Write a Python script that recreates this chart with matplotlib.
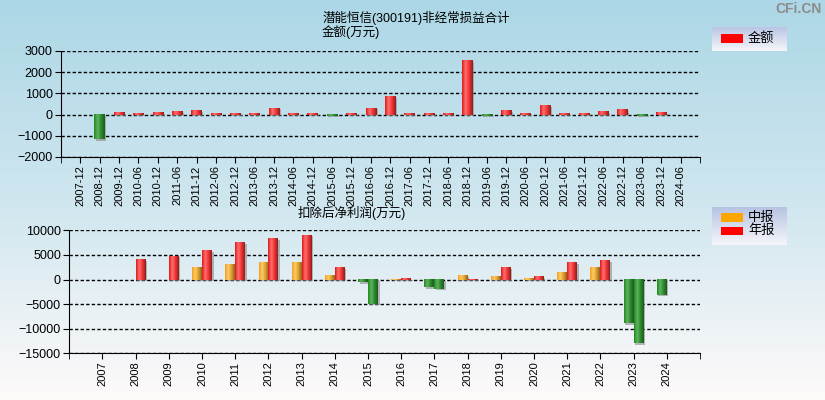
import numpy as np
import matplotlib
matplotlib.use("Agg")
import matplotlib.pyplot as plt
from matplotlib.colors import LinearSegmentedColormap
from matplotlib.patches import Rectangle
from matplotlib.transforms import offset_copy

plt.rcParams['font.family'] = ['Liberation Sans', 'Noto Sans CJK SC', 'DejaVu Sans']

# top chart: non-recurring gains/losses (10k yuan)
periods = ["2007-12", "2008-12", "2009-12", "2010-06", "2010-12", "2011-06", "2011-12",
           "2012-06", "2012-12", "2013-06", "2013-12", "2014-06", "2014-12", "2015-06",
           "2015-12", "2016-06", "2016-12", "2017-06", "2017-12", "2018-06", "2018-12",
           "2019-06", "2019-12", "2020-06", "2020-12", "2021-06", "2021-12", "2022-06",
           "2022-12", "2023-06", "2023-12", "2024-06"]
amount = [0, -1160, 110, 50, 100, 150, 210,
          50, 50, 50, 310, 50, 50, -50,
          50, 310, 860, 50, 50, 50, 2550,
          -50, 200, 50, 430, 50, 50, 150,
          250, -50, 110, 0]

# bottom chart: net profit after deduction (10k yuan)
years = ["2007", "2008", "2009", "2010", "2011", "2012", "2013", "2014", "2015",
         "2016", "2017", "2018", "2019", "2020", "2021", "2022", "2023", "2024"]
mid_report = [np.nan, np.nan, np.nan, 2520, 3200, 3540, 3540, 880, -500,
              200, -1560, 880, 680, 400, 1500, 2520, -8900, -3060]
annual_report = [np.nan, 4150, 4830, 5990, 7620, 8440, 9120, 2520, -4960,
                 270, -1840, 200, 2520, 680, 3540, 3950, -13000, np.nan]

RED = LinearSegmentedColormap.from_list("r", ["#e01818", "#ff7070", "#f03030", "#8a2020"])
GREEN = LinearSegmentedColormap.from_list("g", ["#1a8a1a", "#62b262", "#2a8a2a", "#1e5a1e"])
ORANGE = LinearSegmentedColormap.from_list("o", ["#f0a020", "#ffcc66", "#dc9c2c", "#8a6420"])
GRAD = np.linspace(0, 1, 64).reshape(1, -1)


def draw_bar(ax, fig, x0, w, h, cmap):
    if h is None or np.isnan(h) or h == 0:
        return
    shadow = offset_copy(ax.transData, fig=fig, x=1.5, y=-1.5, units='dots')
    ax.add_patch(Rectangle((x0, 0), w, h, transform=shadow, facecolor="#8a8a8a",
                           alpha=0.6, edgecolor='none', zorder=2))
    lo, hi = min(0, h), max(0, h)
    ax.imshow(GRAD, cmap=cmap, extent=(x0, x0 + w, lo, hi), aspect='auto',
              interpolation='bilinear', zorder=3)


def style_axes(ax, n, ylim, yticks):
    ax.set_facecolor('none')
    ax.set_xlim(-1, n)
    ax.set_ylim(*ylim)
    ax.set_yticks(yticks)
    ax.spines['top'].set_visible(False)
    ax.spines['right'].set_visible(False)
    ax.grid(axis='y', color='black', linestyle=(0, (2.4, 1.6)), linewidth=1, zorder=1)
    ax.set_axisbelow(True)
    ax.tick_params(axis='y', labelsize=9, length=4, pad=2)
    ax.tick_params(axis='x', labelsize=8, length=4, pad=2, labelrotation=90)
    ax.set_xticks([-1, n], minor=True)
    ax.tick_params(axis='x', which='minor', length=4)


fig = plt.figure(figsize=(8.25, 4), dpi=100)

# background gradient
bg = fig.add_axes([0, 0, 1, 1], zorder=-10)
bg_cmap = LinearSegmentedColormap.from_list("bg", ["#acd7e6", "#cfe6ef", "#fefafa"])
bg.imshow(np.linspace(0, 1, 256).reshape(-1, 1), cmap=bg_cmap, aspect='auto',
          extent=(0, 1, 0, 1))
bg.axis('off')

# top chart
ax1 = fig.add_axes([0.0739, 0.6075, 0.7746, 0.2655])
x = np.arange(len(periods))
for i, v in enumerate(amount):
    draw_bar(ax1, fig, x[i] - 0.27, 0.54, v, RED if v > 0 else GREEN)
style_axes(ax1, len(periods), (-2000, 3000), [-2000, -1000, 0, 1000, 2000, 3000])
ax1.set_xticks(x)
ax1.set_xticklabels(periods)

# bottom chart
ax2 = fig.add_axes([0.084, 0.1168, 0.7645, 0.3072])
x2 = np.arange(len(years))
for i in range(len(years)):
    m, a = mid_report[i], annual_report[i]
    draw_bar(ax2, fig, x2[i] - 0.3, 0.3, m, ORANGE if m > 0 else GREEN)
    draw_bar(ax2, fig, x2[i], 0.3, a, RED if a > 0 else GREEN)
style_axes(ax2, len(years), (-15000, 10000), [-15000, -10000, -5000, 0, 5000, 10000])
ax2.set_xticks(x2)
ax2.set_xticklabels(years)

# titles
fig.text(323 / 825, 1 - 17.5 / 400, "潜能恒信(300191)非经常损益合计", fontsize=9,
         ha='left', va='center')
fig.text(322 / 825, 1 - 32.5 / 400, "金额(万元)", fontsize=9, ha='left', va='center')
fig.text(298 / 825, 1 - 212.5 / 400, "扣除后净利润(万元)", fontsize=9, ha='left', va='center')
fig.text(822 / 825, 1 - 9 / 400, "CFi.CN", fontsize=10, fontweight='bold',
         color='#8c8c8c', ha='right', va='center')

# legends
leg_cmap = LinearSegmentedColormap.from_list("lg", ["#b6c3e2", "#f6f6fa"])


def legend_box(y_top, y_bot, entries):
    lax = fig.add_axes([712 / 825, 1 - y_bot / 400, 75 / 825, (y_bot - y_top) / 400])
    lax.imshow(np.linspace(0, 1, 64).reshape(-1, 1), cmap=leg_cmap, aspect='auto',
               extent=(0, 75, y_bot, y_top))
    lax.set_xlim(0, 75)
    lax.set_ylim(y_bot, y_top)
    lax.axis('off')
    for color, label, yc in entries:
        lax.add_patch(Rectangle((9, yc - 4.3), 21.5, 8.6, facecolor=color, edgecolor='none'))
        lax.text(36, yc, label, fontsize=9.5, va='center', ha='left')


legend_box(27, 51, [("#ff0000", "金额", 38.5)])
legend_box(207, 245, [("#ffa500", "中报", 217.5), ("#ff0000", "年报", 231)])

fig.savefig("out.png", dpi=100)
